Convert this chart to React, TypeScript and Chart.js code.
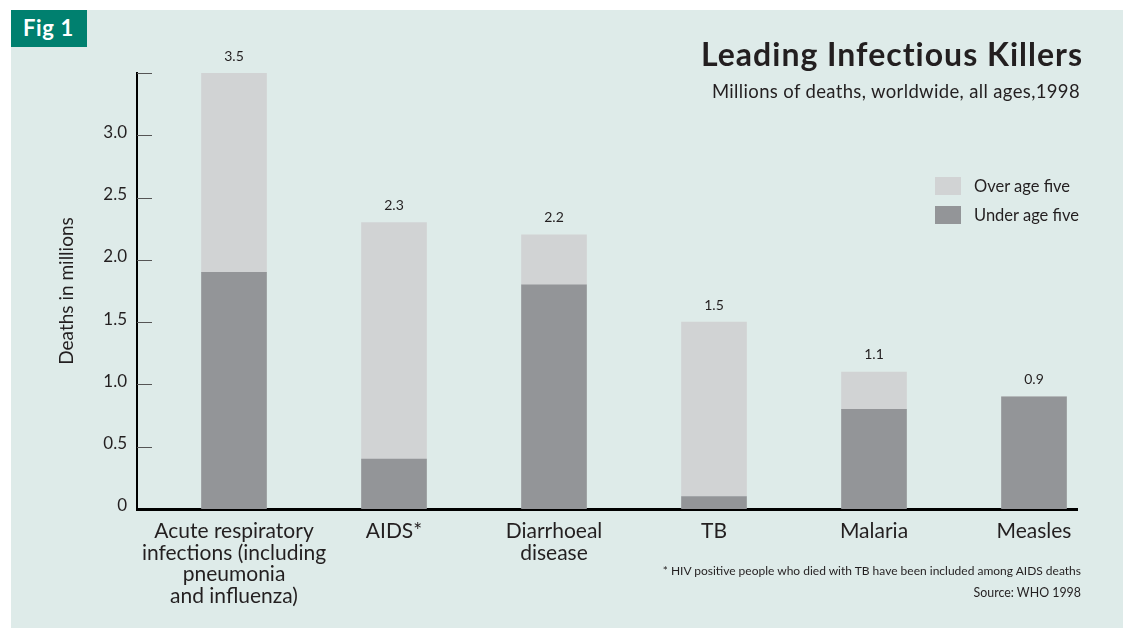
import React, { useEffect, useRef } from "react";
import { Chart, registerables } from "chart.js";

Chart.register(...registerables);

const categories: string[][] = [
  ["Acute respiratory", "infections (including", "pneumonia", "and influenza)"],
  ["AIDS*"],
  ["Diarrhoeal", "disease"],
  ["TB"],
  ["Malaria"],
  ["Measles"],
];
const underFive = [1.9, 0.4, 1.8, 0.1, 0.8, 0.9];
const overFive = [1.6, 1.9, 0.4, 1.4, 0.3, 0];
const yTickValues = [0, 0.5, 1, 1.5, 2, 2.5, 3, 3.5];
const yTickLabels = ["0", "0.5", "1.0", "1.5", "2.0", "2.5", "3.0", ""];

const FONT = "Lato, 'Noto Sans', sans-serif";
const TEXT = "#231f20";
const DARK = "#939598";
const LIGHT = "#d1d3d4";
const BG = "#deebe9";

const tickMarks = {
  id: "tickMarks",
  afterDraw(chart: any) {
    const { ctx, chartArea, scales } = chart;
    const y = scales.y;
    ctx.save();
    ctx.strokeStyle = "#555";
    ctx.lineWidth = 1;
    yTickValues.forEach((v) => {
      if (v === 0) return;
      const py = Math.round(y.getPixelForValue(v)) + 0.5;
      ctx.beginPath();
      ctx.moveTo(chartArea.left, py);
      ctx.lineTo(chartArea.left + 15, py);
      ctx.stroke();
    });
    ctx.restore();
  },
};

const valueLabels = {
  id: "valueLabels",
  afterDatasetsDraw(chart: any) {
    const { ctx, scales } = chart;
    ctx.save();
    ctx.font = `14px ${FONT}`;
    ctx.fillStyle = TEXT;
    ctx.textAlign = "center";
    ctx.textBaseline = "middle";
    underFive.forEach((u, i) => {
      const total = u + overFive[i];
      const px = scales.x.getPixelForValue(i);
      const py = scales.y.getPixelForValue(total) - 17;
      ctx.fillText(total.toFixed(1), px, py);
    });
    ctx.restore();
  },
};

export default function App() {
  const ref = useRef<HTMLCanvasElement>(null);

  useEffect(() => {
    if (!ref.current) return;
    const chart = new Chart(ref.current, {
      type: "bar",
      data: {
        datasets: [
          {
            label: "Under age five",
            data: underFive.map((v, i) => ({ x: i, y: v })),
            backgroundColor: DARK,
            barThickness: 65,
          },
          {
            label: "Over age five",
            data: overFive.map((v, i) => ({ x: i, y: v })),
            backgroundColor: LIGHT,
            barThickness: 65,
          },
        ],
      },
      options: {
        animation: false,
        responsive: false,
        maintainAspectRatio: false,
        devicePixelRatio: 1,
        layout: { padding: { left: 0, right: 46, top: 73, bottom: 0 } },
        plugins: {
          legend: { display: false },
          tooltip: { enabled: false },
        },
        scales: {
          x: {
            type: "linear",
            stacked: true,
            offset: false,
            min: -97 / 160,
            max: 5 + 43 / 160,
            afterBuildTicks: (scale: any) => {
              scale.ticks = categories.map((_, i) => ({ value: i }));
            },
            afterFit: (scale: any) => {
              scale.height = 120;
            },
            grid: { display: false, drawTicks: false, offset: false },
            border: { display: true, color: "#000", width: 3 },
            ticks: {
              autoSkip: false,
              maxRotation: 0,
              padding: 11,
              color: TEXT,
              font: { family: FONT, size: 21, lineHeight: 1.04 },
              callback: (value: any) => categories[value as number] ?? "",
            },
          },
          y: {
            stacked: true,
            min: 0,
            max: 3.5,
            afterBuildTicks: (scale: any) => {
              scale.ticks = yTickValues.map((v) => ({ value: v }));
            },
            afterFit: (scale: any) => {
              scale.width = 137;
            },
            grid: { display: false, drawTicks: false },
            border: { display: true, color: "#000", width: 2 },
            ticks: {
              padding: 10,
              labelOffset: -3,
              color: TEXT,
              font: { family: FONT, size: 17 },
              callback: (value: any) => yTickLabels[yTickValues.indexOf(value as number)] ?? "",
            },
            title: {
              display: true,
              text: "Deaths in millions",
              color: TEXT,
              font: { family: FONT, size: 19 },
              padding: { top: 55, bottom: 0 },
            },
          },
        },
      },
      plugins: [tickMarks, valueLabels],
    });
    return () => chart.destroy();
  }, []);

  const abs = (s: React.CSSProperties): React.CSSProperties => ({ position: "absolute", whiteSpace: "nowrap", ...s });

  return (
    <div style={{ position: "fixed", left: 0, top: 0, width: 1123, height: 629, background: "#fff", fontFamily: FONT, color: TEXT, overflow: "hidden" }}>
      <div style={abs({ left: 11, top: 10, right: 0, bottom: 1, background: BG })} />
      <canvas ref={ref} width={1123} height={629} style={abs({ left: 0, top: 0, width: 1123, height: 629 })} />
      <div style={abs({ left: 11, top: 10, width: 76, height: 37, background: "#00806f" })} />
      <div style={abs({ left: 23, top: 17, fontSize: 22, lineHeight: "22px", fontWeight: 700, letterSpacing: "0.6px", color: "#fff" })}>Fig 1</div>
      <div style={abs({ right: 40, top: 37, fontSize: 32, lineHeight: "34px", fontWeight: 700, letterSpacing: "1px" })}>Leading Infectious Killers</div>
      <div style={abs({ right: 43, top: 80, fontSize: 18.5, lineHeight: "22px", letterSpacing: "0.35px" })}>Millions of deaths, worldwide, all ages,1998</div>
      <div style={abs({ left: 935, top: 177, width: 26, height: 18, background: LIGHT })} />
      <div style={abs({ left: 935, top: 206, width: 26, height: 18, background: DARK })} />
      <div style={abs({ left: 974, top: 176, fontSize: 16.5, lineHeight: "20px" })}>Over age five</div>
      <div style={abs({ left: 974, top: 205, fontSize: 16.5, lineHeight: "20px" })}>Under age five</div>
      <div style={abs({ right: 42, top: 563, fontSize: 12, lineHeight: "16px" })}>* HIV positive people who died with TB have been included among AIDS deaths</div>
      <div style={abs({ right: 42, top: 585, fontSize: 12.4, lineHeight: "16px" })}>Source: WHO 1998</div>
    </div>
  );
}
